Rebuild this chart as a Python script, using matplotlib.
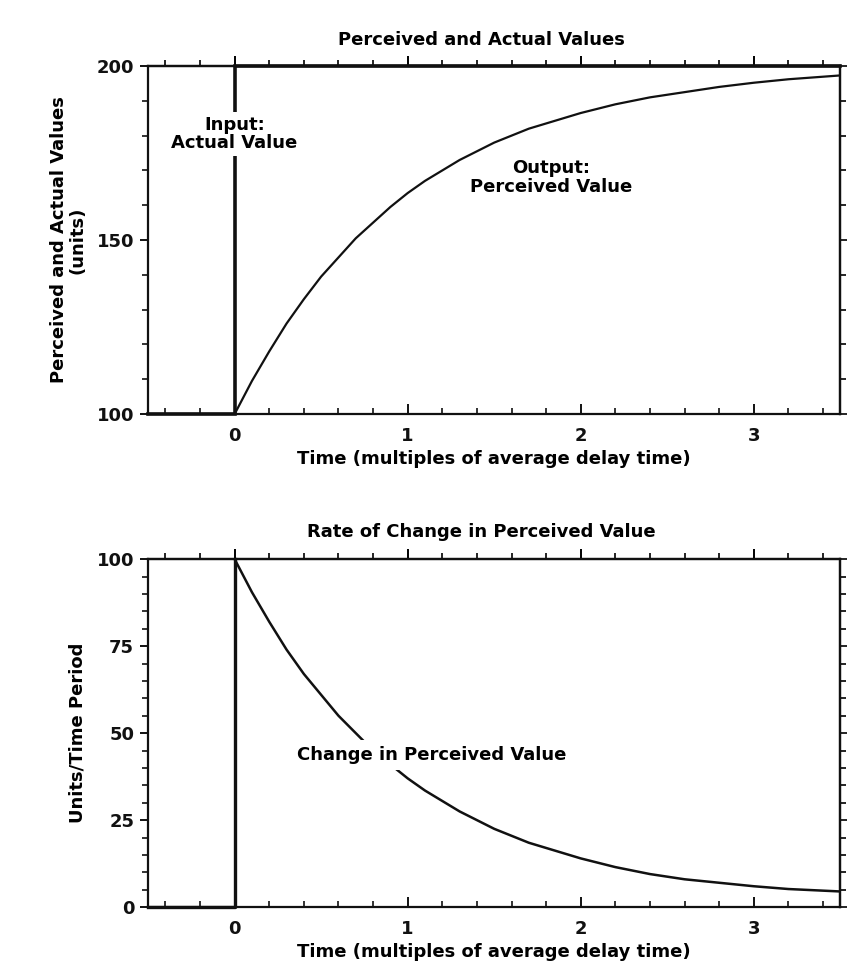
import matplotlib.pyplot as plt
from matplotlib.ticker import MultipleLocator

# perceived value after a step in the actual value at t = 0
t_perceived = [0, 0.1, 0.2, 0.3, 0.4, 0.5, 0.6, 0.7, 0.8, 0.9, 1.0,
               1.1, 1.2, 1.3, 1.4, 1.5, 1.6, 1.7, 1.8, 1.9, 2.0,
               2.2, 2.4, 2.6, 2.8, 3.0, 3.2, 3.5]
perceived = [100, 109.5, 118, 126, 133, 139.5, 145, 150.5, 155, 159.5, 163.5,
             167, 170, 173, 175.5, 178, 180, 182, 183.5, 185, 186.5,
             189, 191, 192.5, 194, 195.2, 196.2, 197.3]

# actual value: steps from 100 to 200
t_actual = [-0.5, 0, 0, 3.5]
actual = [100, 100, 200, 200]

# rate of change of the perceived value
t_rate = [0, 0.1, 0.2, 0.3, 0.4, 0.5, 0.6, 0.7, 0.8, 0.9, 1.0,
          1.1, 1.2, 1.3, 1.4, 1.5, 1.6, 1.7, 1.8, 1.9, 2.0,
          2.2, 2.4, 2.6, 2.8, 3.0, 3.2, 3.5]
rate = [100, 90.5, 82, 74, 67, 61, 55, 50, 45, 41, 37,
        33.5, 30.5, 27.5, 25, 22.5, 20.5, 18.5, 17, 15.5, 14,
        11.5, 9.5, 8, 7, 6, 5.2, 4.5]
t_rate_start = [-0.5, 0, 0]
rate_start = [0, 0, 100]

xticks = [0, 1, 2, 3]
yticks_top = [100, 150, 200]
yticks_bottom = [0, 25, 50, 75, 100]

ink = '#111111'
plt.rcParams['font.family'] = 'DejaVu Sans'
plt.rcParams['font.weight'] = 'bold'
plt.rcParams['font.size'] = 13

fig = plt.figure(figsize=(8.61, 9.64), dpi=100)
ax1 = fig.add_axes([0.172, 0.5705, 0.804, 0.361])
ax2 = fig.add_axes([0.172, 0.059, 0.804, 0.361])


def style(ax, ylim, yticks, yminor):
    ax.set_xlim(-0.5, 3.5)
    ax.set_ylim(*ylim)
    ax.set_xticks(xticks)
    ax.xaxis.set_minor_locator(MultipleLocator(0.2))
    ax.set_yticks(yticks)
    ax.yaxis.set_minor_locator(MultipleLocator(yminor))
    for s in ax.spines.values():
        s.set_linewidth(1.6)
        s.set_color(ink)
    ax.tick_params(axis='x', which='major', direction='in', length=7,
                   width=1.4, pad=9, colors=ink)
    ax.tick_params(axis='x', which='minor', direction='in', length=4,
                   width=1.2, colors=ink)
    ax.tick_params(axis='y', which='major', direction='out', length=6,
                   width=1.4, pad=4, colors=ink)
    ax.tick_params(axis='y', which='minor', direction='out', length=4,
                   width=1.2, colors=ink)
    for lab in ax.get_xticklabels() + ax.get_yticklabels():
        lab.set_fontweight('bold')

    top = ax.secondary_xaxis('top')
    top.set_xticks(xticks)
    top.xaxis.set_minor_locator(MultipleLocator(0.2))
    top.tick_params(which='major', direction='out', length=7, width=1.4,
                    labeltop=False)
    top.tick_params(which='minor', direction='out', length=4, width=1.2)
    right = ax.secondary_yaxis('right')
    right.set_yticks(yticks)
    right.yaxis.set_minor_locator(MultipleLocator(yminor))
    right.tick_params(which='major', direction='out', length=5, width=1.2,
                      labelright=False)
    right.tick_params(which='minor', direction='out', length=4, width=1.2)
    for sec in (top, right):
        for s in sec.spines.values():
            s.set_linewidth(1.6)

    ax.set_xlabel('Time (multiples of average delay time)',
                  fontweight='bold', labelpad=4)


# top panel
style(ax1, (100, 200), yticks_top, 10)
ax1.plot(t_actual, actual, color=ink, lw=2.6, clip_on=False,
         solid_joinstyle='miter')
ax1.plot(t_perceived, perceived, color=ink, lw=1.6)
ax1.text(0, 180.5, 'Input:\nActual Value', ha='center', va='center',
         fontweight='bold', linespacing=1.0,
         bbox=dict(facecolor='white', edgecolor='none', pad=3))
ax1.text(1.83, 168, 'Output:\nPerceived Value', ha='center', va='center',
         fontweight='bold', linespacing=1.05)
ax1.set_ylabel('Perceived and Actual Values\n(units)', fontweight='bold',
               linespacing=1.0)
ax1.yaxis.set_label_coords(-0.089, 0.5)

# bottom panel
style(ax2, (0, 100), yticks_bottom, 5)
ax2.plot(t_rate_start, rate_start, color=ink, lw=2.4, clip_on=False)
ax2.plot(t_rate, rate, color=ink, lw=1.8)
ax2.text(1.14, 43.7, 'Change in Perceived Value', ha='center', va='center',
         fontweight='bold',
         bbox=dict(facecolor='white', edgecolor='none', pad=4))
ax2.set_ylabel('Units/Time Period', fontweight='bold')
ax2.yaxis.set_label_coords(-0.089, 0.5)

fig.text(481 / 861, 1 - 40 / 964, 'Perceived and Actual Values',
         ha='center', va='center', fontweight='bold')
fig.text(481 / 861, 1 - 532 / 964, 'Rate of Change in Perceived Value',
         ha='center', va='center', fontweight='bold')

fig.savefig('out.png', dpi=100, facecolor='white')
